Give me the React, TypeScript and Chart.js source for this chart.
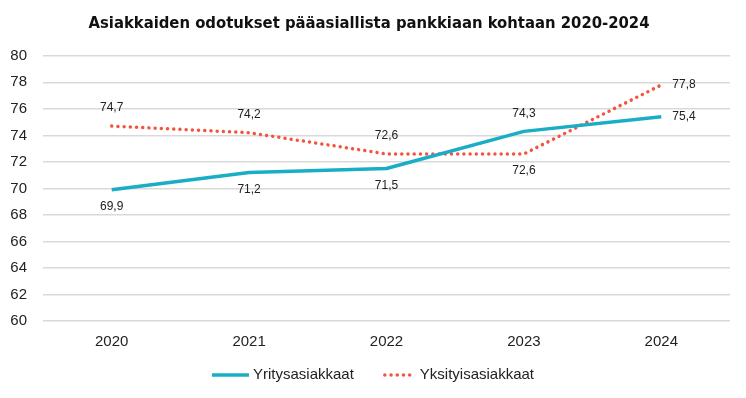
import React, { useEffect, useRef } from "react";
import { Chart, registerables } from "chart.js";

Chart.register(...registerables);

const title = "Asiakkaiden odotukset pääasiallista pankkiaan kohtaan 2020-2024";
const years = ["2020", "2021", "2022", "2023", "2024"];
const yritysName = "Yritysasiakkaat";
const yritysValues = [69.9, 71.2, 71.5, 74.3, 75.4];
const yksityisName = "Yksityisasiakkaat";
const yksityisValues = [74.7, 74.2, 72.6, 72.6, 77.8];
const yMin = 60;
const yMax = 80;
const yStep = 2;

const TEAL = "#1AAEC6";
const RED = "#F4533D";
const FONT = "'Liberation Sans', Arial, sans-serif";
const DOT_DASH = [0.01, 6.2];

const fmt = (v: number) => v.toFixed(1).replace(".", ",");

const labelPlugin = {
  id: "valueLabels",
  afterDatasetsDraw(chart: any) {
    const { ctx } = chart;
    const n = chart.data.labels.length;
    ctx.save();
    ctx.font = `12px ${FONT}`;
    ctx.fillStyle = "#222";
    chart.data.datasets.forEach((ds: any, di: number) => {
      const other = chart.data.datasets[1 - di];
      const meta = chart.getDatasetMeta(di);
      meta.data.forEach((pt: any, i: number) => {
        const v = ds.data[i];
        const text = fmt(v);
        if (i === n - 1) {
          ctx.textAlign = "left";
          ctx.textBaseline = "middle";
          ctx.fillText(text, pt.x + 11, pt.y);
        } else {
          const above = v >= other.data[i];
          ctx.textAlign = "center";
          ctx.textBaseline = "middle";
          ctx.fillText(text, pt.x, above ? pt.y - 18 : pt.y + 17);
        }
      });
    });
    ctx.restore();
  },
};

const legendPlugin = {
  id: "customLegend",
  afterDraw(chart: any) {
    const { ctx } = chart;
    const datasets = chart.data.datasets;
    ctx.save();
    ctx.font = `15px ${FONT}`;
    const lineW = 37;
    const gap = 4;
    const itemGap = 25;
    const widths = datasets.map((d: any) => lineW + gap + ctx.measureText(d.label).width);
    const total = widths.reduce((a: number, b: number) => a + b, 0) + itemGap * (datasets.length - 1);
    let x = (chart.width - total) / 2;
    const y = chart.height - 15;
    datasets.forEach((d: any, i: number) => {
      ctx.beginPath();
      ctx.strokeStyle = d.borderColor;
      ctx.lineWidth = d.borderWidth;
      ctx.lineCap = d.borderDash ? "round" : "butt";
      ctx.setLineDash(d.borderDash || []);
      if (d.borderDash) {
        ctx.moveTo(x + 6, y);
        ctx.lineTo(x + lineW - 4, y);
      } else {
        ctx.moveTo(x, y);
        ctx.lineTo(x + lineW, y);
      }
      ctx.stroke();
      ctx.setLineDash([]);
      ctx.fillStyle = "#222";
      ctx.textAlign = "left";
      ctx.textBaseline = "middle";
      ctx.fillText(d.label, x + lineW + gap, y);
      x += widths[i] + itemGap;
    });
    ctx.restore();
  },
};

export default function App() {
  const ref = useRef<HTMLCanvasElement | null>(null);
  useEffect(() => {
    if (!ref.current) return;
    const chart = new Chart(ref.current, {
      type: "line",
      data: {
        labels: years,
        datasets: [
          {
            label: yritysName,
            data: yritysValues,
            borderColor: TEAL,
            backgroundColor: TEAL,
            borderWidth: 3.5,
            pointRadius: 0,
            tension: 0,
            borderJoinStyle: "round",
          },
          {
            label: yksityisName,
            data: yksityisValues,
            borderColor: RED,
            backgroundColor: RED,
            borderWidth: 3.5,
            borderDash: DOT_DASH,
            borderCapStyle: "round",
            pointRadius: 0,
            tension: 0,
          },
        ],
      },
      options: {
        animation: false,
        responsive: true,
        maintainAspectRatio: false,
        layout: { padding: { left: 0, right: 8, top: 0, bottom: 35 } },
        plugins: {
          title: {
            display: true,
            text: title,
            color: "#111",
            font: { family: "'DejaVu Sans Condensed', sans-serif", size: 16.5, weight: "bold" },
            padding: { top: 6, bottom: 22 },
          },
          legend: { display: false },
          tooltip: { enabled: false },
        },
        scales: {
          x: {
            offset: true,
            grid: { display: false },
            border: { display: false },
            ticks: { color: "#222", font: { family: FONT, size: 15 }, padding: 4 },
          },
          y: {
            min: yMin,
            max: yMax,
            ticks: { stepSize: yStep, color: "#222", font: { family: FONT, size: 15 }, padding: 16 },
            grid: { color: "#D9D9D9", lineWidth: 1.5, drawTicks: false },
            border: { display: false },
            afterFit(scale: any) {
              scale.width = 35;
            },
          },
        },
      },
      plugins: [labelPlugin, legendPlugin],
    });
    return () => chart.destroy();
  }, []);
  return (
    <div style={{ width: 730, height: 382, position: "relative" }}>
      <canvas ref={ref} />
    </div>
  );
}
